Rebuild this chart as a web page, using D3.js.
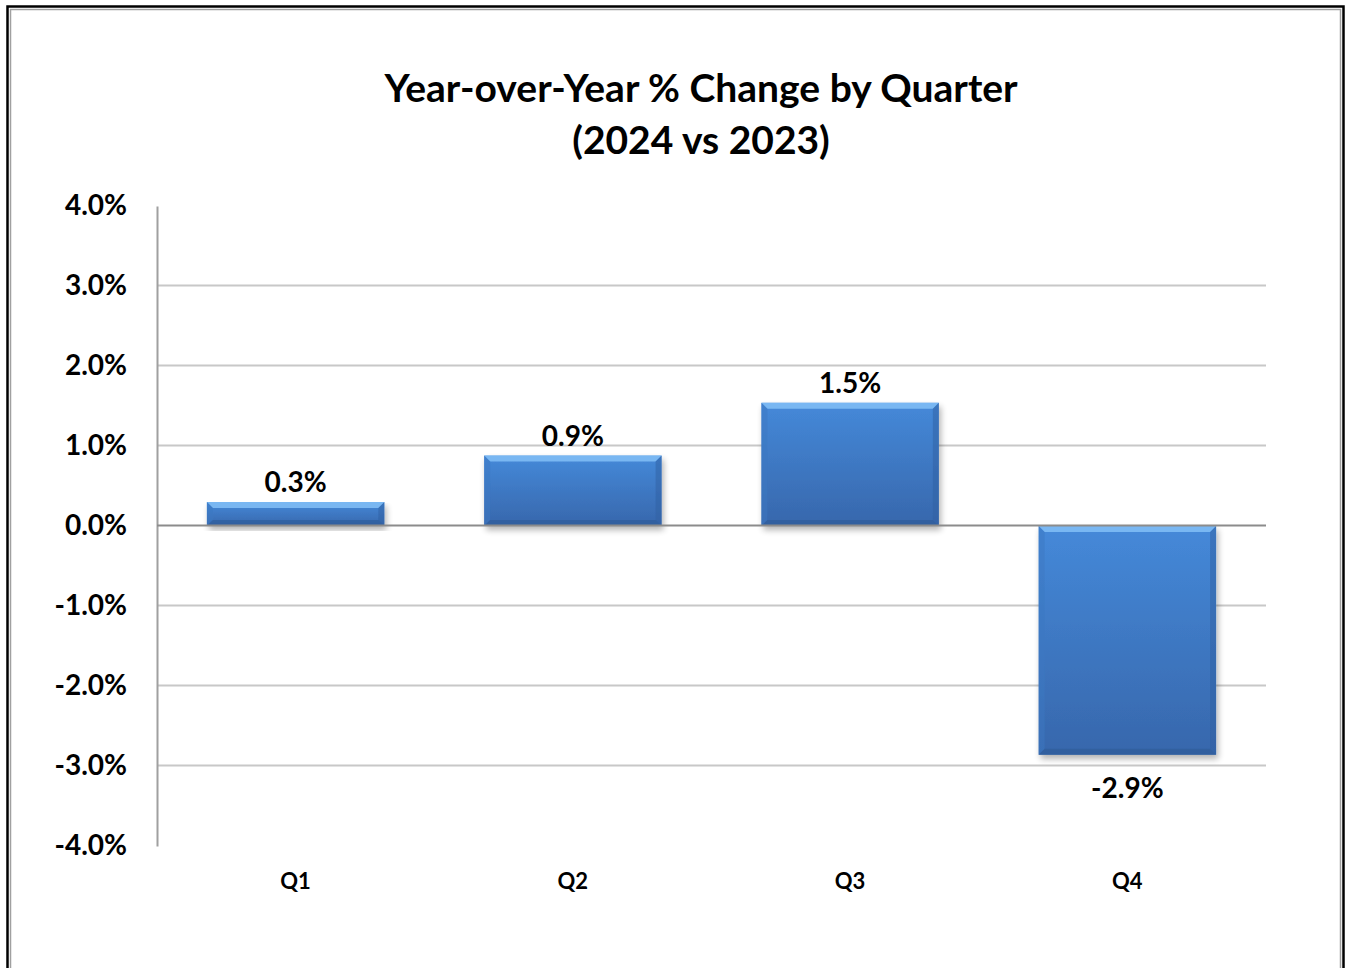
<!DOCTYPE html>
<html>
<head>
<meta charset="utf-8">
<script src="https://cdn.jsdelivr.net/npm/d3@7"></script>
<style>
  body { margin: 0; background: #fff; }
  svg { display: block; }
  text { font-family: Lato, "Open Sans", sans-serif; font-weight: bold; fill: #000; }
</style>
</head>
<body>
<svg id="chart" width="1351" height="968"></svg>
<script>
// data
var quarters = ["Q1", "Q2", "Q3", "Q4"];
var yoyChange = [0.30, 0.88, 1.54, -2.86];
var yTicks = [-4, -3, -2, -1, 0, 1, 2, 3, 4];
var titleLines = ["Year-over-Year % Change by Quarter", "(2024 vs 2023)"];

var W = 1351, H = 968;
var margin = {left: 157, right: 85, top: 206, bottom: 122};

var svg = d3.select("#chart");
var defs = svg.append("defs");

var grad = defs.append("linearGradient").attr("id", "barFill")
  .attr("x1", 0).attr("y1", 0).attr("x2", 0).attr("y2", 1);
grad.append("stop").attr("offset", "0%").attr("stop-color", "#4589d9");
grad.append("stop").attr("offset", "100%").attr("stop-color", "#3767ac");

var shadow = defs.append("filter").attr("id", "shadow")
  .attr("x", "-10%").attr("y", "-10%").attr("width", "130%").attr("height", "130%");
shadow.append("feGaussianBlur").attr("in", "SourceAlpha").attr("stdDeviation", 3);
shadow.append("feOffset").attr("dx", 2).attr("dy", 4).attr("result", "b");
shadow.append("feComponentTransfer").append("feFuncA").attr("type", "linear").attr("slope", 0.3);
var fm = shadow.append("feMerge");
fm.append("feMergeNode");
fm.append("feMergeNode").attr("in", "SourceGraphic");

// frame
svg.append("rect").attr("x", 7.5).attr("y", 6.5).attr("width", W - 15).attr("height", H)
  .attr("fill", "none").attr("stroke", "#000").attr("stroke-width", 2.5);
svg.append("rect").attr("x", 10.5).attr("y", 9.5).attr("width", W - 21).attr("height", H)
  .attr("fill", "none").attr("stroke", "#a0a0a0").attr("stroke-width", 1.5);

// title
svg.append("text").attr("x", 701).attr("y", 92)
  .attr("text-anchor", "middle").attr("dominant-baseline", "middle")
  .style("font-size", "39px")
  .selectAll("tspan").data(titleLines).enter().append("tspan")
  .attr("x", 701).attr("dy", function (d, i) { return i ? 52 : 0; })
  .text(function (d) { return d; });

var x = d3.scaleBand().domain(quarters)
  .range([margin.left, W - margin.right]).paddingInner(0.36).paddingOuter(0.18);
var y = d3.scaleLinear().domain([-4, 4]).range([H - margin.bottom, margin.top]);

// gridlines (no line at the extremes)
svg.append("g").selectAll("line").data(yTicks.filter(function (t) { return t > -4 && t < 4 && t !== 0; }))
  .enter().append("line")
  .attr("x1", margin.left).attr("x2", W - margin.right)
  .attr("y1", function (d) { return Math.round(y(d)) - 0.5; })
  .attr("y2", function (d) { return Math.round(y(d)) - 0.5; })
  .attr("stroke", "#c8c8c8").attr("stroke-width", 2);

// y axis
var yAxis = svg.append("g").attr("transform", "translate(" + margin.left + ",0)")
  .call(d3.axisLeft(y).tickValues(yTicks).tickSize(0).tickPadding(30)
    .tickFormat(function (d) { return d.toFixed(1) + "%"; }));
yAxis.select(".domain").attr("stroke", "#a0a0a0").attr("stroke-width", 2);
yAxis.selectAll("text").style("font-size", "28px").attr("fill", "#000");

// bars
var bars = svg.append("g").selectAll("g").data(yoyChange).enter().append("g")
  .attr("filter", "url(#shadow)");

bars.append("rect")
  .attr("x", function (d, i) { return x(quarters[i]); })
  .attr("width", x.bandwidth())
  .attr("y", function (d) { return y(Math.max(0, d)); })
  .attr("height", function (d) { return Math.abs(y(d) - y(0)); })
  .attr("fill", "url(#barFill)");

// bevel edges
var bv = 6;
function bevel(sel, side, color, op) {
  sel.append("path").attr("fill", color).attr("opacity", op)
    .attr("d", function (d, i) {
      var x0 = x(quarters[i]), x1 = x0 + x.bandwidth();
      var y0 = y(Math.max(0, d)), y1 = y(Math.min(0, d));
      if (side === "top") return "M" + x0 + "," + y0 + "L" + x1 + "," + y0 + "L" + (x1 - bv) + "," + (y0 + bv) + "L" + (x0 + bv) + "," + (y0 + bv) + "Z";
      if (side === "bottom") return "M" + x0 + "," + y1 + "L" + x1 + "," + y1 + "L" + (x1 - bv) + "," + (y1 - bv) + "L" + (x0 + bv) + "," + (y1 - bv) + "Z";
      if (side === "left") return "M" + x0 + "," + y0 + "L" + (x0 + bv) + "," + (y0 + bv) + "L" + (x0 + bv) + "," + (y1 - bv) + "L" + x0 + "," + y1 + "Z";
      return "M" + x1 + "," + y0 + "L" + (x1 - bv) + "," + (y0 + bv) + "L" + (x1 - bv) + "," + (y1 - bv) + "L" + x1 + "," + y1 + "Z";
    });
}
bevel(bars, "top", "#82c0f7", 0.85);
bevel(bars, "left", "#3c78c2", 0.5);
bevel(bars, "right", "#2f60a2", 0.5);
bevel(bars, "bottom", "#2c5891", 0.5);

// zero line above bars
svg.append("line")
  .attr("x1", margin.left).attr("x2", W - margin.right)
  .attr("y1", Math.round(y(0)) - 0.5).attr("y2", Math.round(y(0)) - 0.5)
  .attr("stroke", "#8c8c8c").attr("stroke-width", 2);

// data labels
svg.append("g").selectAll("text").data(yoyChange).enter().append("text")
  .attr("x", function (d, i) { return x(quarters[i]) + x.bandwidth() / 2; })
  .attr("y", function (d) { return d >= 0 ? y(d) - 10 : y(d) + 43; })
  .attr("text-anchor", "middle")
  .style("font-size", "28px")
  .text(function (d) { return d.toFixed(1) + "%"; });

// category labels
svg.append("g").selectAll("text").data(quarters).enter().append("text")
  .attr("x", function (d) { return x(d) + x.bandwidth() / 2; })
  .attr("y", 889)
  .attr("text-anchor", "middle")
  .style("font-size", "22px")
  .text(function (d) { return d; });
</script>
</body>
</html>
